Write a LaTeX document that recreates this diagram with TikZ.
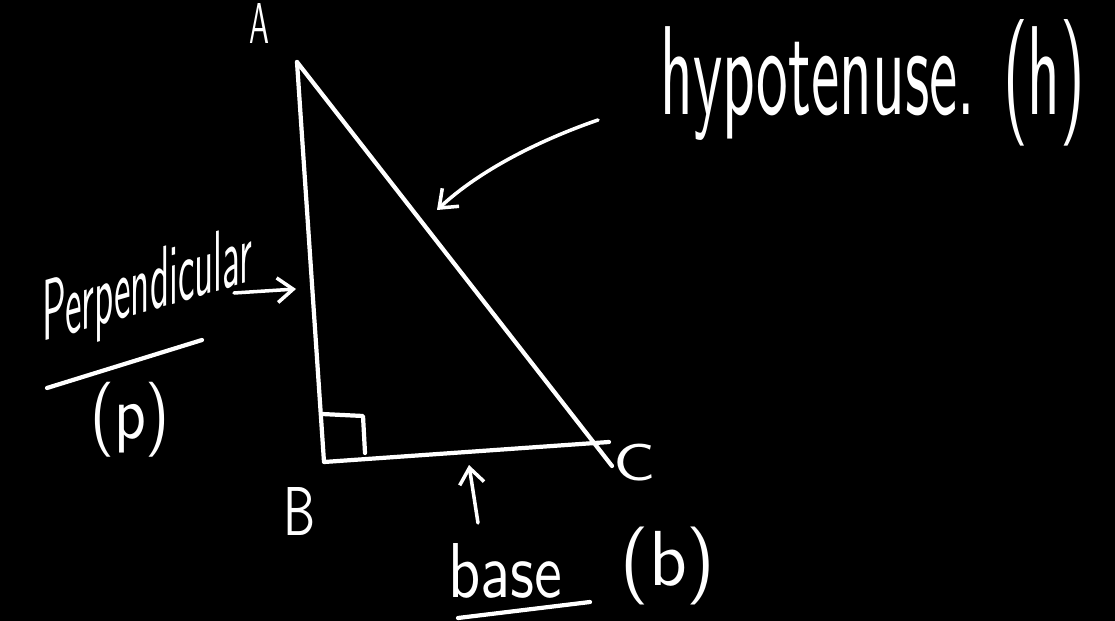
\documentclass[tikz,border=0pt]{standalone}
\usetikzlibrary{arrows.meta}
\newcommand\handtext[3]{\resizebox{#1}{#2}{#3}}
\newcommand\handbox[3]{\resizebox*{#1}{#2}{#3}}
\tikzset{
  chalk/.style={draw=white, line width=2.4pt, line cap=round, line join=round},
  pointer/.style={chalk, line width=2pt, -{Straight Barb[length=9pt,width=14pt,line width=2pt]}},
  lbl/.style={text=white, inner sep=0pt, font=\sffamily}
}
\begin{document}
\begin{tikzpicture}[x=0.02cm,y=-0.02cm]
\fill[black] (0,0) rectangle (1115,621);
\useasboundingbox (0,0) rectangle (1115,621);
% triangle
\coordinate (A) at (297,62);
\coordinate (B) at (324,462);
\coordinate (Cb) at (609,442);
\coordinate (Ch) at (612,466);
\draw[chalk] (A) -- (B) -- (Cb);
\draw[chalk] (A) -- (Ch);
% right angle mark
\coordinate (r1) at (322,414);
\coordinate (r2) at (363,416);
\coordinate (r3) at (365,453);
\draw[chalk] (r1) -- (r2) -- (r3);
% vertex labels
\node[lbl] (labA) at (259,24) {\handbox{0.4cm}{0.8cm}{A}};
\node[lbl] (labB) at (299,511) {\handbox{0.64cm}{0.96cm}{B}};
\node[lbl] (labC) at (634,463) {\handbox{0.84cm}{0.74cm}{C}};
% hypotenuse label
\node[lbl, anchor=base west] (hyp) at (660,115) {\handtext{8.5cm}{1.9cm}{hypotenuse. (h)}};
\coordinate (h0) at (598,120);
\coordinate (h1) at (437,210);
\draw[pointer] (h0) .. controls (540,140) and (480,170) .. (h1);
% perpendicular label (upright letters on a rising baseline)
\begin{scope}[shift={(42,342)}, yslant=0.29]
\node[lbl, anchor=base west, transform shape] (perp) at (0,0) {\handtext{4.2cm}{1.2cm}{Perpendicular}};
\end{scope}
\coordinate (p0) at (234,293);
\coordinate (p1) at (296,289);
\draw[pointer] (p0) -- (p1);
\coordinate (u0) at (47,388);
\coordinate (u1) at (202,340);
\draw[chalk] (u0) -- (u1);
\node[lbl] (pp) at (130,420) {\handbox{1.6cm}{1.5cm}{(p)}};
% base label
\node[lbl, anchor=base west] (base) at (448,597) {\handtext{2.28cm}{1.08cm}{base}};
\node[lbl] (bb) at (668,566) {\handbox{1.9cm}{1.56cm}{(b)}};
\coordinate (b0) at (478,523);
\coordinate (b1) at (469,465);
\draw[pointer] (b0) -- (b1);
\coordinate (bu0) at (458,618);
\coordinate (bu1) at (590,602);
\draw[chalk] (bu0) -- (bu1);
\end{tikzpicture}
\end{document}
